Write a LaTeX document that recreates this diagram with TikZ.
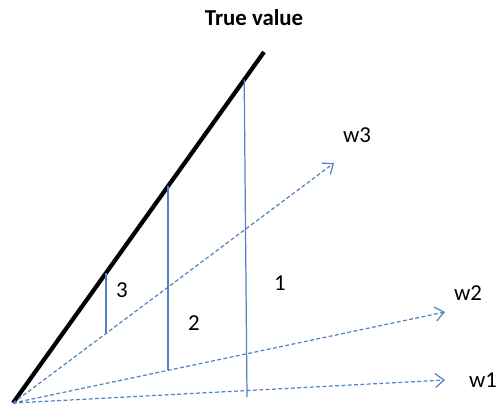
\documentclass[tikz,border=0pt]{standalone}
\usepackage{fontspec}
\setmainfont{Carlito}
\definecolor{vecblue}{RGB}{84,130,196}
\usetikzlibrary{arrows.meta,positioning,calc}

\begin{document}
\begin{tikzpicture}[x=0.02cm, y=-0.02cm,
    truth/.style={line width=2.4pt, black},
    wvec/.style={vecblue, dashed, dash pattern=on 2.2pt off 1.4pt, line width=0.7pt,
                 -{Straight Barb[length=5pt, width=8pt]}},
    gap/.style={vecblue, line width=0.7pt},
    lbl/.style={font=\fontsize{13}{15}\selectfont, inner sep=1pt}]
    \useasboundingbox (0,0) rectangle (499,407);
    % origin and end points
    \coordinate (o) at (13,403);
    \coordinate (top) at (264,52);
    \coordinate (w3end) at (334,163);
    \coordinate (w2end) at (445,312);
    \coordinate (w1end) at (445,380);

    \draw[truth] (o) -- (top);
    \draw[wvec] (o) -- (w3end);
    \draw[wvec] (o) -- (w2end);
    \draw[wvec] (o) -- (w1end);

    % errors between true value and the estimates
    \coordinate (t3) at ($(o)!0.3705!(top)$);
    \coordinate (t2) at ($(o)!0.6175!(top)$);
    \coordinate (t1) at ($(o)!0.921!(top)$);
    \coordinate (e3) at ($(o)!0.2897!(w3end)$);
    \coordinate (e2) at ($(o)!0.3588!(w2end)$);
    \coordinate (e1) at (247,397);
    \draw[gap] (t3) -- (t3 |- e3);
    \draw[gap] (t2) -- (t2 |- e2);
    \draw[gap] (t1) -- (e1);

    \node[font=\fontsize{13}{15}\selectfont\bfseries] (truelbl) at (254,18) {True value};
    \node[lbl] (w3lbl) at (357,135) {w3};
    \node[lbl] (w2lbl) at (468,293) {w2};
    \node[lbl] (w1lbl) at (483,380) {w1};
    \node[lbl] (n3) at (122,290) {3};
    \node[lbl] (n2) at (194,323) {2};
    \node[lbl] (n1) at (280,283) {1};
\end{tikzpicture}
\end{document}
